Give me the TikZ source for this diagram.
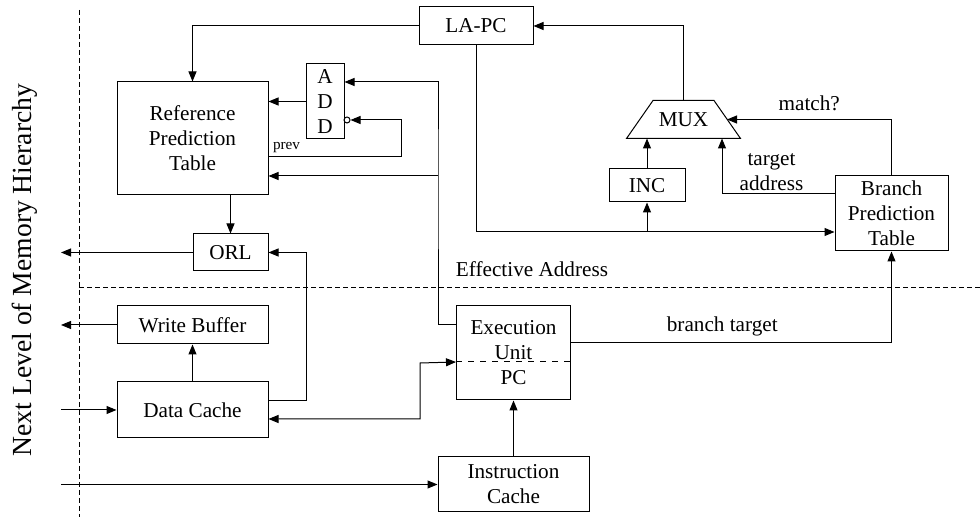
\documentclass[tikz,border=0pt]{standalone}
\usepackage{fontspec}
\setmainfont{Liberation Serif}
\usetikzlibrary{positioning, arrows.meta}

\begin{document}
\begin{tikzpicture}[x=0.5pt, y=-0.5pt, line width=0.5pt,
  box/.style={draw, inner sep=0pt, align=center, font=\fontsize{10.6}{12.5}\selectfont},
  lbl/.style={font=\fontsize{10.6}{12.5}\selectfont, align=center},
  tiny/.style={font=\fontsize{7.6}{9}\selectfont},
  arr/.style={-{Triangle[length=5pt, width=4pt]}},
  darr/.style={{Triangle[length=5pt, width=4pt]}-{Triangle[length=5pt, width=4pt]}},
  border/.style={dash pattern=on 2.5pt off 1.5pt}]

  \useasboundingbox (0,0) rectangle (980,517);

  %% boundaries
  \coordinate (edge) at (61,0);
  \draw[border] (79,10) -- (79,517);
  \draw[border] (79,288) -- (980,288);
  \node[rotate=90, font=\fontsize{13.8}{16}\selectfont] (nextlvl) at (24.5,270) {Next Level of Memory Hierarchy};
  \node[lbl] (ealbl) at (532,269) {Effective Address};

  %% data side
  \node[box, minimum width=75.5pt, minimum height=56.5pt] (rpt) at (192.5,138.5) {Reference\\Prediction\\Table};
  \node[box, minimum width=19pt, minimum height=37.5pt] (add) at (325,101.5) {A\\D\\D};
  \node[draw, circle, inner sep=0pt, minimum size=3pt] (inv) at (347,120) {};
  \node[box, minimum width=37.5pt, minimum height=18.5pt, below=19pt of rpt.south east, anchor=north east] (orl) {ORL};
  \node[box, minimum width=75.5pt, minimum height=28pt] (dcache) at (192.5,410) {Data Cache};
  \node[box, minimum width=75.5pt, minimum height=19pt, above=18.5pt of dcache] (wbuf) {Write Buffer};

  %% processor
  \node[box, minimum width=75.5pt, minimum height=27.5pt] (icache) at (513.5,484.5) {Instruction\\Cache};
  \node[box, minimum width=57pt, minimum height=47pt, above=28pt of icache] (exu) {Execution\\Unit\\PC};
  \draw[dashed] ([yshift=-4.5pt]exu.west) -- ([yshift=-4.5pt]exu.east);

  %% lookahead
  \node[box, minimum width=57pt, minimum height=19pt] (lapc) at (476,26) {LA-PC};
  \node[box, minimum width=38pt, minimum height=16.5pt] (inc) at (647,185.5) {INC};
  \node[lbl, minimum width=56.5pt, minimum height=18.5pt, inner sep=0pt] (mux) at (683.5,119.5) {MUX};
  \draw (mux.south west) -- ([xshift=13.25pt]mux.north west) -- ([xshift=-13.25pt]mux.north east) -- (mux.south east) -- cycle;
  \node[box, minimum width=56.5pt, minimum height=37.5pt] (bpt) at (891.5,213.5) {Branch\\Prediction\\Table};

  \coordinate (ea) at (438,176);
  \coordinate (loop) at (401,120);
  \coordinate (pcin) at (420,363);
  \coordinate (bptin) at ([yshift=-9.25pt]bpt.west);

  %% arrows
  \draw[arr] (lapc.west) -| (rpt.north);
  \draw[arr] (add.west) -- (add.west -| rpt.east);
  \draw[arr] ([yshift=14pt]exu.west) -| (ea) |- ([yshift=9.75pt]add.east);
  \draw[arr] (ea) -- (ea -| rpt.east);
  \draw[arr] ([yshift=-9.25pt]rpt.east) node[tiny, anchor=south west, inner sep=2pt] {prev} -| (loop) -- (inv.east);
  \draw[arr] (orl.north |- rpt.south) -- (orl.north);
  \draw[arr] (orl.west) -- (orl.west -| edge);
  \draw[arr] ([yshift=4.5pt]dcache.east) -- ++(38,0) |- (orl.east);
  \draw[arr] (dcache.north) -- (wbuf.south);
  \draw[arr] (wbuf.west) -- (wbuf.west -| edge);
  \draw[arr] (dcache.west -| edge) -- (dcache.west);
  \draw[arr] (icache.west -| edge) -- (icache.west);
  \draw[arr] (icache.north) -- (exu.south);
  \draw[darr] ([yshift=-4.5pt]dcache.east) -| (pcin) -- ([yshift=-4.5pt]exu.west);
  \draw[arr] ([yshift=5pt]exu.east) -| node[lbl, above, pos=0.236] {branch target} (bpt.south);
  \draw[arr] (lapc.south) |- (bptin);
  \draw[arr] (inc.south |- bptin) -- (inc.south);
  \draw[arr] (inc.north) -- (inc.north |- mux.south);
  \draw[arr] (mux.north) |- (lapc.east);
  \draw[arr] ([yshift=9.75pt]bpt.west) -| node[lbl, above, pos=0.28, inner sep=1.5pt] {target\\address} ([xshift=19.25pt]mux.south);
  \draw[arr] (bpt.north) |- node[lbl, above, pos=0.75, inner sep=4pt] {match?} ([xshift=-6.75pt]mux.east);
\end{tikzpicture}
\end{document}
